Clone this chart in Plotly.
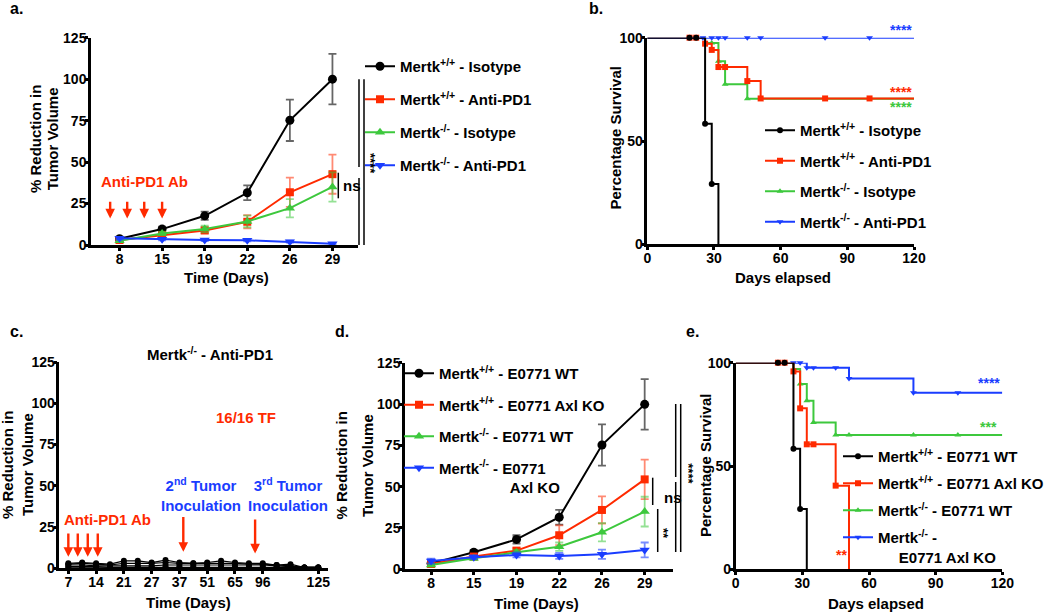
import plotly.graph_objects as go

W, H = 1050, 612
FONT = "Liberation Sans"
BLACK = "#000000"
RED = "#FF2A00"
GREEN = "#3DC83D"
BLUE = "#1A3DFF"
RED_E = "rgba(255,42,0,0.55)"
GREEN_E = "rgba(61,200,61,0.55)"
BLUE_E = "rgba(26,61,255,0.6)"
BLACK_E = "rgba(0,0,0,0.6)"

# ---------------- data ----------------
# Panel a: tumour growth (mean, SEM)
a_days = ["8", "15", "19", "22", "26", "29"]
a_wt_iso = [3.8, 9.6, 17.6, 31.5, 75.2, 100.0]
a_wt_iso_err = [1.0, 1.5, 2.5, 4.5, 12.5, 15.2]
a_wt_pd1 = [3.0, 6.0, 8.8, 14.0, 31.8, 42.7]
a_wt_pd1_err = [0.8, 1.0, 1.8, 4.0, 8.8, 11.8]
a_ko_iso = [2.6, 7.0, 9.6, 14.2, 22.2, 35.0]
a_ko_iso_err = [0.8, 1.0, 2.0, 3.5, 5.5, 8.8]
a_ko_pd1 = [4.0, 3.4, 3.0, 2.8, 2.0, 0.8]
a_ko_pd1_err = [0.8, 0.6, 0.6, 0.6, 0.6, 0.4]

# Panel b: Kaplan-Meier (step times / survival, censor marks)
b_wt_iso_t = [0, 26, 29, 32]
b_wt_iso_s = [100, 58.3, 29.2, 0]
b_wt_iso_ct = [19, 22, 26, 29]
b_wt_iso_cs = [100, 100, 58.3, 29.2]
b_wt_pd1_t = [0, 26, 29, 32, 45, 51, 120]
b_wt_pd1_s = [100, 97.1, 94.1, 85.8, 79.0, 70.6, 70.6]
b_wt_pd1_ct = [19, 22, 26, 29, 32, 35, 45, 51, 80, 100]
b_wt_pd1_cs = [100, 100, 97.1, 94.1, 85.8, 85.8, 79.0, 70.6, 70.6, 70.6]
b_ko_iso_t = [0, 26, 32, 35, 45, 120]
b_ko_iso_s = [100, 97.4, 88.6, 77.5, 70.4, 70.4]
b_ko_iso_ct = [29, 32, 35, 45]
b_ko_iso_cs = [97.4, 88.6, 77.5, 70.4]
b_ko_pd1_t = [0, 120]
b_ko_pd1_s = [100, 100]
b_ko_pd1_ct = [25, 29, 32, 35, 45, 51, 80, 100]
b_ko_pd1_cs = [100, 100, 100, 100, 100, 100, 100, 100]

# Panel c: individual Mertk-/- anti-PD1 mice
c_days = ["7", "10", "14", "17", "21", "24", "27", "31", "37", "44",
          "51", "58", "65", "79", "96", "103", "110", "117", "125"]
c_ticks = ["7", "14", "21", "27", "37", "51", "65", "96", "125"]
c_mouse1 = [3.0, 3.5, 3.0, 2.5, 4.5, 4.5, 3.5, 5.0, 3.5, 3.0, 3.5, 4.5, 3.5, 3.0, 3.0, 2.0, 2.5, 0.5, 0.5]
c_mouse2 = [2.5, 3.0, 2.5, 2.0, 3.0, 3.0, 3.0, 3.5, 3.0, 3.0, 3.0, 3.0, 3.0, 2.5, 2.5, 2.0, 1.5, 0.5, 0.5]
c_mouse3 = [2.0, 2.0, 1.5, 1.5, 1.5, 1.5, 1.5, 2.0, 2.0, 2.0, 2.0, 2.0, 2.0, 2.0, 2.0, 1.5, 1.0, 0.5, 0.5]
c_mouse4 = [1.0, 1.0, 1.0, 0.5, 0.5, 0.5, 0.5, 0.5, 0.5, 0.5, 0.5, 0.5, 0.5, 0.5, 0.5, 0.5, 0.5, 0.5, 0.5]
c_mouse5 = [0.3, 0.3, 0.3, 0.3, 0.3, 0.3, 0.3, 0.3, 0.3, 0.3, 0.3, 0.3, 0.3, 0.3, 0.3, 0.3, 0.3, 0.3, 0.3]

# Panel d: tumour growth with E0771 Axl KO
d_days = ["8", "15", "19", "22", "26", "29"]
d_wt_wt = [3.6, 10.3, 18.1, 31.5, 75.2, 99.8]
d_wt_wt_err = [1.0, 1.5, 2.5, 4.5, 12.5, 15.3]
d_wt_axl = [3.2, 7.7, 11.3, 20.6, 35.9, 54.4]
d_wt_axl_err = [0.8, 1.0, 1.5, 6.0, 8.2, 12.0]
d_ko_wt = [2.6, 6.7, 10.3, 13.7, 22.4, 34.9]
d_ko_wt_err = [0.8, 1.0, 1.5, 2.5, 5.5, 9.0]
d_ko_axl = [5.0, 7.3, 8.7, 8.1, 9.1, 11.7]
d_ko_axl_err = [1.5, 1.2, 1.5, 1.8, 2.8, 4.5]

# Panel e: Kaplan-Meier with E0771 Axl KO
e_wt_wt_t = [0, 26, 29, 32]
e_wt_wt_s = [100, 58.3, 29.2, 0]
e_wt_wt_ct = [19, 22, 26, 29]
e_wt_wt_cs = [100, 100, 58.3, 29.2]
e_wt_axl_t = [0, 26, 29, 32, 45, 51]
e_wt_axl_s = [100, 95.8, 77.9, 60.5, 40.5, 0]
e_wt_axl_ct = [19, 22, 26, 29, 32, 35, 45]
e_wt_axl_cs = [100, 100, 95.8, 77.9, 60.5, 60.5, 40.5]
e_ko_wt_t = [0, 26, 29, 32, 35, 45, 120]
e_ko_wt_s = [100, 97.0, 89.7, 81.6, 71.1, 65.0, 65.0]
e_ko_wt_ct = [29, 32, 35, 45, 51, 80, 100]
e_ko_wt_cs = [89.7, 81.6, 71.1, 65.0, 65.0, 65.0, 65.0]
e_ko_axl_t = [0, 32, 51, 80, 120]
e_ko_axl_s = [100, 97.6, 92.4, 85.5, 85.5]
e_ko_axl_ct = [26, 29, 32, 35, 45, 51, 80, 100]
e_ko_axl_cs = [100, 100, 97.6, 97.6, 97.6, 92.4, 85.5, 85.5]

# ---------------- helpers ----------------
def PX(p):
    return p / W


def PY(p):
    return 1 - p / H


def bold(size, color=BLACK):
    return dict(family=FONT, size=size, color=color, weight="bold")


traces = []


def growth(xs, ys, err, color, ecolor, symbol, msize, name, xa, ya, leg, rank):
    traces.append(go.Scatter(
        x=xs, y=ys, mode="lines+markers", name=name,
        line=dict(color=color, width=2),
        marker=dict(symbol=symbol, size=msize, color=color),
        error_y=dict(type="data", array=err, visible=True, color=ecolor, thickness=1.8, width=4),
        xaxis=xa, yaxis=ya, legend=leg, legendgroup=name + leg, legendrank=rank,
        cliponaxis=False, hoverinfo="skip"))


def survival(t, s, ct, cs, color, symbol, msize, name, xa, ya, leg, rank):
    traces.append(go.Scatter(
        x=t, y=s, mode="lines", line=dict(color=color, width=2, shape="hv"),
        showlegend=False, xaxis=xa, yaxis=ya, cliponaxis=False, hoverinfo="skip"))
    traces.append(go.Scatter(
        x=ct, y=cs, mode="markers", marker=dict(symbol=symbol, size=msize, color=color),
        showlegend=False, xaxis=xa, yaxis=ya, cliponaxis=False, hoverinfo="skip"))
    traces.append(go.Scatter(
        x=[None], y=[None], mode="lines+markers", name=name,
        line=dict(color=color, width=2), marker=dict(symbol=symbol, size=msize, color=color),
        xaxis=xa, yaxis=ya, legend=leg, legendgroup=name + leg, legendrank=rank))


WT = "Mertk<sup>+/+</sup>"
KO = "Mertk<sup>-/-</sup>"

# panel a
growth(a_days, a_wt_iso, a_wt_iso_err, BLACK, BLACK_E, "circle", 9, WT + " - Isotype", "x", "y", "legend", 1)
growth(a_days, a_wt_pd1, a_wt_pd1_err, RED, RED_E, "square", 8, WT + " - Anti-PD1", "x", "y", "legend", 2)
growth(a_days, a_ko_iso, a_ko_iso_err, GREEN, GREEN_E, "triangle-up", 9, KO + " - Isotype", "x", "y", "legend", 3)
growth(a_days, a_ko_pd1, a_ko_pd1_err, BLUE, BLUE_E, "triangle-down", 9, KO + " - Anti-PD1", "x", "y", "legend", 4)

# panel b
survival(b_ko_iso_t, b_ko_iso_s, b_ko_iso_ct, b_ko_iso_cs, GREEN, "triangle-up", 6, KO + " - Isotype", "x2", "y2", "legend2", 3)
survival(b_wt_pd1_t, b_wt_pd1_s, b_wt_pd1_ct, b_wt_pd1_cs, RED, "square", 6, WT + " - Anti-PD1", "x2", "y2", "legend2", 2)
survival(b_ko_pd1_t, b_ko_pd1_s, b_ko_pd1_ct, b_ko_pd1_cs, BLUE, "triangle-down", 6, KO + " - Anti-PD1", "x2", "y2", "legend2", 4)
survival(b_wt_iso_t, b_wt_iso_s, b_wt_iso_ct, b_wt_iso_cs, BLACK, "circle", 6, WT + " - Isotype", "x2", "y2", "legend2", 1)

# panel c
for m in [c_mouse5, c_mouse4, c_mouse3, c_mouse2, c_mouse1]:
    traces.append(go.Scatter(
        x=c_days, y=m, mode="lines+markers", line=dict(color=BLACK, width=1.2),
        marker=dict(symbol="circle", size=6, color=BLACK), showlegend=False,
        xaxis="x3", yaxis="y3", cliponaxis=False, hoverinfo="skip"))

# panel d
NB = "\u00a0"
growth(d_days, d_wt_wt, d_wt_wt_err, BLACK, BLACK_E, "circle", 9, WT + " - E0771 WT", "x4", "y4", "legend3", 1)
growth(d_days, d_wt_axl, d_wt_axl_err, RED, RED_E, "square", 8, WT + " - E0771 Axl KO", "x4", "y4", "legend3", 2)
growth(d_days, d_ko_wt, d_ko_wt_err, GREEN, GREEN_E, "triangle-up", 9, KO + " - E0771 WT", "x4", "y4", "legend3", 3)
growth(d_days, d_ko_axl, d_ko_axl_err, BLUE, BLUE_E, "triangle-down", 9,
       KO + " - E0771<br>" + NB * 17 + "Axl KO", "x4", "y4", "legend3", 4)

# panel e
survival(e_ko_wt_t, e_ko_wt_s, e_ko_wt_ct, e_ko_wt_cs, GREEN, "triangle-up", 6, KO + " - E0771 WT", "x5", "y5", "legend4", 3)
survival(e_ko_axl_t, e_ko_axl_s, e_ko_axl_ct, e_ko_axl_cs, BLUE, "triangle-down", 6,
         KO + " -<br>" + NB * 5 + "E0771 Axl KO", "x5", "y5", "legend4", 4)
survival(e_wt_axl_t, e_wt_axl_s, e_wt_axl_ct, e_wt_axl_cs, RED, "square", 6, WT + " - E0771 Axl KO", "x5", "y5", "legend4", 2)
survival(e_wt_wt_t, e_wt_wt_s, e_wt_wt_ct, e_wt_wt_cs, BLACK, "circle", 6, WT + " - E0771 WT", "x5", "y5", "legend4", 1)

fig = go.Figure(traces)


def axis(**kw):
    d = dict(showline=True, linecolor="black", linewidth=2.5, ticks="outside", ticklen=3,
             tickwidth=2.5, tickcolor="black", showgrid=False, zeroline=False,
             automargin=False, fixedrange=True, tickfont=bold(14))
    d.update(kw)
    return d


growth_y = dict(range=[0, 125], tickvals=[0, 25, 50, 75, 100, 125], ticklabelstandoff=-4)
surv_x = dict(range=[0, 120], tickvals=[0, 30, 60, 90, 120], ticklabelstandoff=-4)
surv_y = dict(range=[0, 100], tickvals=[0, 50, 100], ticklabelstandoff=-4)

layout = dict(
    width=W, height=H, margin=dict(l=0, r=0, t=0, b=0),
    paper_bgcolor="white", plot_bgcolor="white", template="none",
    font=dict(family=FONT, color="black"),
    xaxis=axis(domain=[PX(91), PX(358)], anchor="y", type="category",
               categoryorder="array", categoryarray=a_days, range=[-0.67, 5.6],
               ticklabelstandoff=-4),
    yaxis=axis(domain=[PY(245), PY(37.7)], anchor="x", **growth_y),
    xaxis2=axis(domain=[PX(647.3), PX(914)], anchor="y2", **surv_x),
    yaxis2=axis(domain=[PY(244.3), PY(37.7)], anchor="x2", **surv_y),
    xaxis3=axis(domain=[PX(59.3), PX(328)], anchor="y3", type="category",
                categoryorder="array", categoryarray=c_days, range=[-0.65, 18.7],
                tickmode="array", tickvals=c_ticks, ticktext=c_ticks, ticklabelstandoff=-4),
    yaxis3=axis(domain=[PY(568.3), PY(362)], anchor="x3", **growth_y),
    xaxis4=axis(domain=[PX(405), PX(673.3)], anchor="y4", type="category",
                categoryorder="array", categoryarray=d_days, range=[-0.61, 5.67],
                ticklabelstandoff=-4),
    yaxis4=axis(domain=[PY(569.3), PY(362.7)], anchor="x4", **growth_y),
    xaxis5=axis(domain=[PX(735.7), PX(1002.3)], anchor="y5", **surv_x),
    yaxis5=axis(domain=[PY(569.3), PY(362.7)], anchor="x5", **surv_y),
)


def legend_at(x, y, gap):
    return dict(x=PX(x), y=PY(y), xanchor="left", yanchor="top", font=bold(15),
                bgcolor="rgba(0,0,0,0)", borderwidth=0, tracegroupgap=gap,
                traceorder="grouped", valign="top")


layout["legend"] = legend_at(360, 50, 10.5)
layout["legend2"] = legend_at(760, 114, 8)
layout["legend3"] = legend_at(399, 357, 9)
layout["legend4"] = legend_at(838, 440, 4.5)
fig.update_layout(**layout)

ann = []


def text(x, y, s, size=15, color=BLACK, angle=0, xanchor="center"):
    ann.append(dict(x=PX(x), y=PY(y), xref="paper", yref="paper", text=s, showarrow=False,
                    font=bold(size, color), textangle=angle, xanchor=xanchor, yanchor="middle"))


# panel letters
text(8, 9, "a.", 16, xanchor="left")
text(587, 9, "b.", 16, xanchor="left")
text(8, 331, "c.", 16, xanchor="left")
text(333, 331, "d.", 16, xanchor="left")
text(684, 331, "e.", 16, xanchor="left")

# axis titles
text(226.7, 278, "Time (Days)")
text(36, 139, "% Reduction in", angle=-90)
text(53.3, 139, "Tumor Volume", angle=-90)
text(783, 278, "Days elapsed")
text(615.5, 138, "Percentage Survival", angle=-90)
text(188, 602.7, "Time (Days)")
text(7, 465, "% Reduction in", angle=-90)
text(27, 465, "Tumor Volume", angle=-90)
text(536.7, 603, "Time (Days)")
text(341, 465.5, "% Reduction in", angle=-90)
text(367.5, 465.5, "Tumor Volume", angle=-90)
text(875.7, 603.3, "Days elapsed")
text(705, 466, "Percentage Survival", angle=-90)

# panel annotations
text(144, 181.7, "Anti-PD1 Ab", color=RED)
text(210, 353.3, KO + " - Anti-PD1")
text(245.8, 417, "16/16 TF", color=RED)
text(107.5, 519.3, "Anti-PD1 Ab", color=RED)
text(201, 494, "2<sup>nd</sup> Tumor<br>Inoculation", color=BLUE)
text(287.5, 494, "3<sup>rd</sup> Tumor<br>Inoculation", color=BLUE)

# significance labels
text(340.7, 185, "ns", xanchor="left")
text(370, 163, "****", 13, angle=90)
text(661.7, 497.7, "ns", xanchor="left")
text(664, 533, "**", 13, angle=90)
text(689, 473.3, "****", 13, angle=90)

# survival significance stars (right-aligned)
def star(xr, y, s, color):
    ann.append(dict(x=PX(xr), y=PY(y), xref="paper", yref="paper", text=s, showarrow=False,
                    font=bold(14, color), xanchor="right", yanchor="middle"))


star(914, 29.5, "****", BLUE)
star(914, 92.3, "****", RED)
star(914, 106.7, "****", GREEN)
star(1002, 383.3, "****", BLUE)
star(999, 426.7, "***", GREEN)
text(841.5, 555, "**", 14, color=RED)


def arrow(xa, ya, x, y_tip, y_tail):
    ann.append(dict(x=x, y=y_tip, xref=xa, yref=ya, ax=x, ay=y_tail, axref=xa, ayref=ya,
                    showarrow=True, arrowhead=2, arrowsize=0.8, arrowwidth=2.4,
                    arrowcolor=RED, text=""))


for xp in [-0.22, 0.18, 0.58, 1.0]:
    arrow("x", "y", xp, 16, 27)
for xp in [0.0, 0.68, 1.4, 2.12]:
    arrow("x3", "y3", xp, 7, 22)
arrow("x3", "y3", 8.28, 10, 32)
arrow("x3", "y3", 13.45, 9, 30.5)

fig.update_layout(annotations=ann)

# significance bracket lines
shapes = []


def vline(x, y0, y1):
    shapes.append(dict(type="line", xref="paper", yref="paper", x0=PX(x), x1=PX(x),
                       y0=PY(y0), y1=PY(y1), line=dict(color=BLACK, width=1.5)))


vline(338.3, 172.7, 198.3)
vline(359, 79.3, 167)
vline(359, 178, 245)
vline(364, 79.3, 245)
vline(652.7, 477.7, 505)
vline(657.7, 509, 552)
vline(675.7, 404, 477)
vline(675.7, 482, 552)
vline(680.7, 404, 552)
fig.update_layout(shapes=shapes)

fig.write_html("out.html", config={"displayModeBar": False},
               post_script="document.body.style.margin='0px';")
